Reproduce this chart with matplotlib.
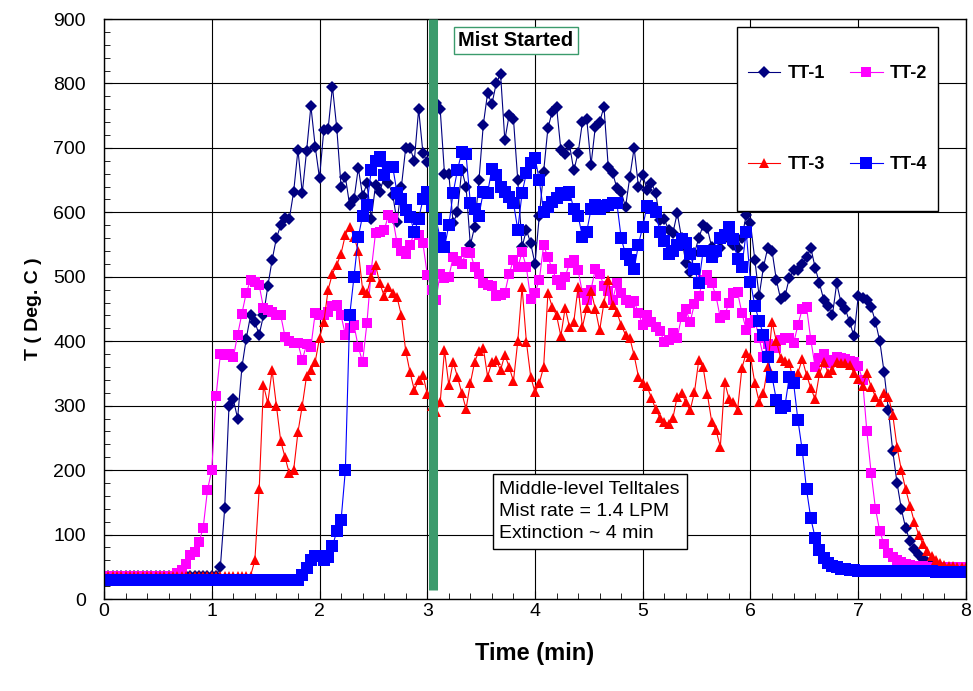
import numpy as np
import matplotlib
matplotlib.use("Agg")
import matplotlib.pyplot as plt
from matplotlib.patches import Rectangle
from matplotlib.ticker import MultipleLocator

plt.rcParams['font.family'] = ['Liberation Sans', 'DejaVu Sans']

# sampling grid: every 0.04 min
time_min = np.linspace(0, 8, 201)

# each row = one minute (25 samples), last value is t = 8.00
tt1 = [
    35, 35, 35, 35, 35, 35, 35, 35, 35, 35, 35, 35, 35, 35, 35, 35, 35, 35, 35, 35, 35, 35, 35, 35, 35,
    35, 36, 50, 141, 300, 310, 280, 360, 404, 440, 430, 410, 440, 485, 526, 560, 580, 592, 590, 632, 697, 630, 695, 765, 702,
    653, 728, 730, 795, 731, 640, 655, 611, 620, 669, 625, 645, 590, 642, 632, 655, 645, 627, 585, 640, 700, 700, 680, 760, 692,
    678, 690, 770, 760, 660, 660, 583, 600, 666, 640, 549, 578, 650, 736, 785, 768, 800, 815, 712, 751, 745, 650, 546, 573, 552,
    520, 595, 663, 731, 756, 764, 697, 690, 705, 665, 692, 740, 745, 674, 733, 740, 764, 670, 661, 638, 632, 608, 655, 700, 640,
    658, 635, 646, 630, 588, 590, 572, 568, 599, 560, 522, 508, 537, 560, 580, 575, 546, 536, 545, 560, 565, 549, 545, 560, 596,
    583, 526, 470, 515, 545, 540, 495, 465, 470, 498, 510, 510, 520, 530, 545, 514, 490, 464, 455, 440, 490, 460, 450, 430, 408,
    470, 467, 464, 453, 430, 400, 352, 293, 230, 180, 140, 110, 90, 78, 68, 62, 57, 53, 51, 49, 48, 47, 46, 46, 45,
    45,
]
tt2 = [
    35, 35, 35, 35, 35, 35, 35, 35, 35, 35, 35, 35, 35, 35, 35, 35, 35, 40, 45, 55, 68, 73, 88, 110, 169,
    200, 315, 380, 378, 380, 375, 410, 443, 475, 495, 492, 487, 452, 448, 446, 441, 440, 407, 400, 397, 397, 371, 395, 391, 444,
    440, 441, 446, 455, 457, 440, 410, 420, 425, 391, 368, 428, 510, 568, 570, 572, 596, 591, 552, 540, 535, 550, 568, 565, 552,
    503, 480, 464, 505, 498, 500, 530, 525, 520, 538, 537, 515, 505, 490, 487, 485, 470, 472, 475, 505, 526, 515, 538, 515, 465,
    475, 495, 549, 530, 512, 495, 488, 500, 521, 526, 510, 475, 464, 480, 512, 505, 486, 478, 464, 490, 475, 464, 460, 462, 444,
    425, 440, 430, 422, 416, 399, 402, 413, 405, 438, 450, 430, 458, 470, 495, 503, 490, 470, 436, 440, 460, 475, 476, 444, 418,
    428, 433, 405, 376, 395, 393, 390, 402, 405, 405, 397, 425, 450, 453, 402, 360, 374, 380, 366, 371, 376, 374, 372, 370, 368,
    362, 340, 260, 195, 140, 105, 85, 72, 65, 60, 57, 55, 53, 52, 51, 51, 50, 50, 50, 50, 50, 50, 50, 50, 50,
    50,
]
tt3 = [
    36, 36, 36, 36, 36, 36, 36, 36, 36, 36, 36, 36, 36, 36, 36, 36, 36, 36, 36, 36, 36, 36, 36, 36, 36,
    36, 36, 36, 36, 36, 36, 36, 36, 36, 36, 60, 170, 332, 304, 355, 300, 245, 220, 195, 200, 259, 300, 346, 355, 368,
    405, 430, 480, 505, 518, 536, 565, 578, 562, 540, 480, 475, 500, 518, 490, 470, 484, 475, 468, 440, 385, 352, 324, 340, 348,
    318, 300, 290, 305, 386, 332, 368, 345, 320, 295, 335, 368, 385, 390, 345, 368, 371, 355, 379, 360, 338, 400, 484, 399, 345,
    321, 335, 360, 475, 453, 440, 408, 452, 422, 430, 484, 422, 452, 478, 450, 417, 460, 495, 456, 445, 425, 410, 405, 378, 345,
    335, 330, 312, 295, 281, 275, 272, 281, 314, 320, 305, 293, 321, 371, 360, 318, 275, 262, 236, 337, 311, 305, 293, 358, 382,
    376, 335, 306, 320, 360, 430, 400, 374, 370, 366, 337, 351, 372, 348, 327, 310, 350, 368, 351, 355, 368, 366, 366, 363, 351,
    342, 330, 350, 329, 314, 306, 320, 314, 286, 236, 200, 170, 145, 120, 100, 85, 74, 66, 60, 56, 53, 52, 51, 50, 50,
    50,
]
tt4 = [
    30, 30, 30, 30, 30, 30, 30, 30, 30, 30, 30, 30, 30, 30, 30, 30, 30, 30, 30, 30, 30, 30, 30, 30, 30,
    30, 30, 30, 30, 30, 30, 30, 30, 30, 30, 30, 30, 30, 30, 30, 30, 30, 30, 30, 30, 30, 38, 48, 60, 67,
    67, 60, 65, 82, 105, 122, 200, 440, 500, 562, 595, 612, 665, 680, 686, 658, 670, 670, 630, 620, 603, 593, 570, 590, 620,
    632, 610, 590, 560, 546, 580, 630, 665, 694, 690, 614, 605, 595, 632, 630, 668, 658, 640, 632, 624, 615, 573, 630, 661, 676,
    685, 650, 600, 608, 616, 622, 630, 627, 632, 605, 595, 562, 570, 605, 612, 605, 610, 612, 615, 614, 560, 535, 526, 512, 550,
    578, 610, 607, 600, 570, 555, 536, 540, 550, 558, 552, 535, 512, 490, 540, 540, 530, 540, 560, 565, 577, 558, 528, 515, 570,
    492, 455, 432, 410, 375, 345, 309, 296, 300, 345, 335, 278, 231, 170, 125, 95, 76, 64, 56, 52, 49, 47, 46, 45, 45,
    44, 44, 44, 43, 43, 43, 43, 43, 43, 43, 43, 43, 43, 43, 43, 43, 43, 43, 42, 42, 42, 42, 42, 42, 42,
    42,
]

series_names = ['TT-1', 'TT-2', 'TT-3', 'TT-4']
series_values = [tt1, tt2, tt3, tt4]
series_colors = ['#000080', '#FF00FF', '#FF0000', '#0000FF']
series_markers = ['D', 's', '^', 's']
marker_sizes = [6, 6.5, 7.5, 8]

mist_time = 3.05
notes = "Middle-level Telltales\nMist rate = 1.4 LPM\nExtinction ~ 4 min"

fig = plt.figure(figsize=(9.73, 6.91), dpi=100)
ax = fig.add_axes([0.1069, 0.1331, 0.8859, 0.8394])

for name, vals, col, mk, ms in zip(series_names, series_values, series_colors,
                                   series_markers, marker_sizes):
    ax.plot(time_min, vals, color=col, lw=0.8, marker=mk, ms=ms,
            markeredgewidth=0, label=name)

# mist start bar
ax.plot([mist_time, mist_time], [14, 900], color='#3b9b6c', lw=6.5,
        solid_capstyle='butt', zorder=5, clip_on=False)
ax.text(3.824, 866, 'Mist Started', ha='center', va='center',
        fontsize=14.5, fontweight='bold', zorder=6,
        bbox=dict(boxstyle='square,pad=0.2', fc='white', ec='#3b9b6c', lw=1))

ax.text(3.67, 183, notes, ha='left', va='top', fontsize=14,
        linespacing=1.4, zorder=6,
        bbox=dict(boxstyle='square,pad=0.35', fc='white', ec='black', lw=1))

ax.set_xlim(0, 8)
ax.set_ylim(0, 900)
ax.xaxis.set_major_locator(MultipleLocator(1))
ax.xaxis.set_minor_locator(MultipleLocator(0.2))
ax.yaxis.set_major_locator(MultipleLocator(100))
ax.yaxis.set_minor_locator(MultipleLocator(20))
ax.grid(True, which='major', color='black', lw=0.8)
ax.tick_params(which='both', direction='in', top=False, right=False,
               labelsize=14)
ax.tick_params(which='major', length=6)
ax.tick_params(which='minor', length=4)
ax.tick_params(axis='y', pad=13)
ax.tick_params(axis='x', pad=3)
for sp in ax.spines.values():
    sp.set_color('black')
    sp.set_linewidth(1)

ax.set_xlabel('Time (min)', fontsize=17, fontweight='bold', labelpad=16)
ax.set_ylabel('T ( Deg. C )', fontsize=14, fontweight='bold', labelpad=8)

# legend frame + entries, filled row by row
ax.add_patch(Rectangle((0.7343, 0.669), 0.2332, 0.317, transform=ax.transAxes,
                       fc='white', ec='black', lw=1, zorder=6))
handles, labels = ax.get_legend_handles_labels()
order = [0, 2, 1, 3]
leg = ax.legend([handles[i] for i in order], [labels[i] for i in order],
                ncol=2, loc='center', bbox_to_anchor=(0.851, 0.8276),
                frameon=False, prop={'size': 13, 'weight': 'bold'},
                labelspacing=4.1, handlelength=1.8, handletextpad=0.4,
                columnspacing=1.4)
leg.set_zorder(7)

fig.savefig('out.png', dpi=100)
